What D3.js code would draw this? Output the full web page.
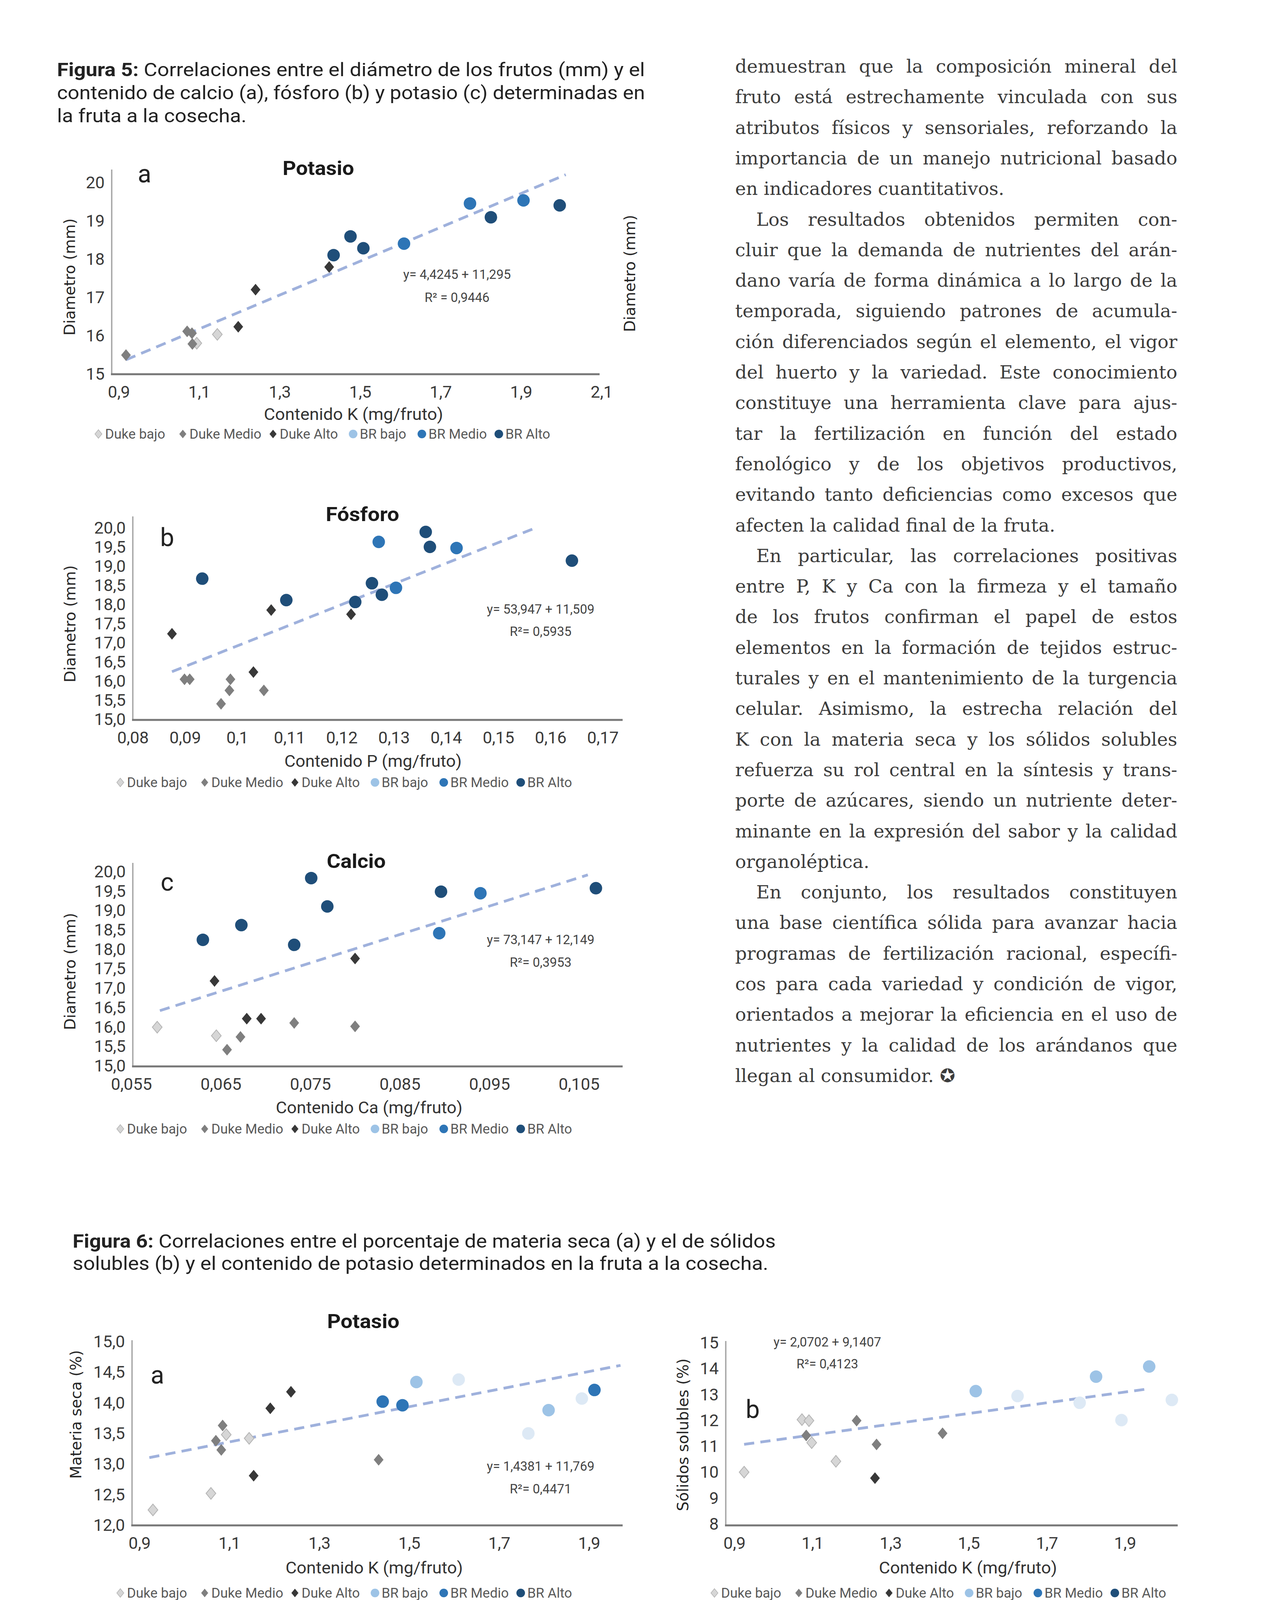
<!DOCTYPE html>
<html><head><meta charset="utf-8">
<script src="https://cdn.jsdelivr.net/npm/d3@7"></script>
<style>body{margin:0;background:#fff}svg{display:block}</style>
</head><body>
<script>
// ================= DATA =================
const seriesNames = ["Duke bajo","Duke Medio","Duke Alto","BR bajo","BR Medio","BR Alto","BR (sin leyenda)"];
const legendSeries = [0,1,2,3,4,5];

// Figura 5a – Potasio vs Diámetro
const k5aS = [0,0, 1,1,1,1, 2,2,2, 4,4,4, 5,5,5,5,5];
const k5aX = [1.094,1.145, 0.918,1.070,1.082,1.083, 1.197,1.240,1.423, 1.609,1.773,1.906, 1.434,1.476,1.508,1.825,1.996];
const k5aY = [15.79,16.02, 15.48,16.10,16.05,15.77, 16.22,17.19,17.78, 18.39,19.44,19.52, 18.09,18.58,18.27,19.08,19.39];

// Figura 5b – Fósforo vs Diámetro
const p5bS = [1,1,1,1,1,1, 2,2,2,2, 4,4,4, 5,5,5,5,5,5,5,5];
const p5bX = [0.0899,0.0909,0.0987,0.0985,0.0969,0.1051, 0.1031,0.0875,0.1065,0.1218, 0.1271,0.1304,0.1420, 0.0933,0.1094,0.1226,0.1258,0.1277,0.1361,0.1369,0.1641];
const p5bY = [16.03,16.03,16.03,15.74,15.39,15.74, 16.22,17.22,17.84,17.73, 19.62,18.42,19.46, 18.66,18.10,18.05,18.54,18.24,19.88,19.49,19.13];

// Figura 5c – Calcio vs Diámetro
const c5cS = [0,0, 1,1,1,1, 2,2,2,2, 4,4, 5,5,5,5,5,5,5];
const c5cX = [0.0579,0.0645, 0.0657,0.0672,0.0732,0.0800, 0.0679,0.0695,0.0643,0.0800, 0.0894,0.0940, 0.0630,0.0673,0.0732,0.0751,0.0769,0.0896,0.1069];
const c5cY = [15.98,15.76, 15.40,15.73,16.09,16.00, 16.20,16.20,17.17,17.75, 18.40,19.43, 18.23,18.61,18.10,19.82,19.09,19.47,19.56];

// Figura 6a – Potasio vs Materia seca
const m6aS = [0,0,0,0, 1,1,1,1, 2,2,2, 3,3, 4,4,4, 6,6,6];
const m6aX = [0.930,1.059,1.093,1.144, 1.070,1.085,1.082,1.432, 1.154,1.191,1.237, 1.516,1.810, 1.441,1.485,1.912, 1.610,1.765,1.884];
const m6aY = [12.24,12.51,13.47,13.41, 13.37,13.62,13.22,13.06, 12.80,13.90,14.17, 14.33,13.87, 14.01,13.95,14.20, 14.37,13.49,14.06];

// Figura 6b – Potasio vs Sólidos solubles
const s6bS = [0,0,0,0,0, 1,1,1,1, 2, 3,3,3, 6,6,6,6];
const s6bX = [0.925,1.073,1.091,1.098,1.160, 1.084,1.213,1.264,1.433, 1.260, 1.518,1.826,1.962, 1.625,1.784,1.891,2.020];
const s6bY = [9.98,12.01,11.97,11.12,10.40, 11.40,11.97,11.05,11.48, 9.75, 13.11,13.67,14.06, 12.92,12.66,11.99,12.77];

// Trend lines (y = a·x + b)
const trendSlope     = [4.4245, 53.947, 73.147, 1.4381, 2.0702];
const trendIntercept = [11.295, 11.509, 12.149, 11.769, 9.1407];
const trendFrom      = [0.918, 0.0875, 0.0582, 0.922, 0.925];
const trendTo        = [2.011, 0.1573, 0.1060, 1.970, 1.961];
const eqLabels = ["y= 4,4245 + 11,295","y= 53,947 + 11,509","y= 73,147 + 12,149","y= 1,4381 + 11,769","y= 2,0702 + 9,1407"];
const r2Labels = ["R² = 0,9446","R²= 0,5935","R²= 0,3953","R²= 0,4471","R²= 0,4123"];

// Tick values
const ticks5aX = [0.9,1.1,1.3,1.5,1.7,1.9,2.1];
const ticks5aY = [15,16,17,18,19,20];
const ticks5bX = [0.08,0.09,0.10,0.11,0.12,0.13,0.14,0.15,0.16,0.17];
const ticks5bY = [15,15.5,16,16.5,17,17.5,18,18.5,19,19.5,20];
const ticks5cX = [0.055,0.065,0.075,0.085,0.095,0.105];
const ticks5cY = [15,15.5,16,16.5,17,17.5,18,18.5,19,19.5,20];
const ticks6aX = [0.9,1.1,1.3,1.5,1.7,1.9];
const ticks6aY = [12,12.5,13,13.5,14,14.5,15];
const ticks6bX = [0.9,1.1,1.3,1.5,1.7,1.9];
const ticks6bY = [8,9,10,11,12,13,14,15];

// ================= STYLE =================
const colors = ["#d6d6d6","#7f7f7f","#383838","#9dc3e6","#2e75b6","#1f4e79","#dde9f5"];
const strokes = ["#b3b3b3",null,null,null,null,null,null];
const isDiamond = [true,true,true,false,false,false,false];
const SANS = "Roboto, 'Noto Sans', sans-serif";

const W = 3282, H = 4208;
const svg = d3.select("body").append("svg").attr("width", W).attr("height", H);
svg.append("rect").attr("width", W).attr("height", H).attr("fill", "#fff");

const fmtTrim = v => String(+v.toFixed(3)).replace(".", ",");
const fmt1 = v => d3.format(".1f")(v).replace(".", ",");
const fmt0 = v => d3.format("d")(v);

function diamondPath(w, h) { return `M0,${-h}L${w},0L0,${h}L${-w},0Z`; }
function circlePath(r) { return d3.arc()({innerRadius:0, outerRadius:r, startAngle:0, endAngle:2*Math.PI}); }

// ================= CAPTIONS =================
function caption(x, y, bold, rest, len) {
  const t = svg.append("text").attr("x", x).attr("y", y)
    .attr("font-family", SANS).attr("font-size", 48).attr("fill", "#222");
  if (bold) t.append("tspan").attr("font-weight", 700).text(bold);
  t.append("tspan").text(rest);
  t.attr("textLength", len).attr("lengthAdjust", "spacingAndGlyphs");
}
caption(146, 195, "Figura 5:", " Correlaciones entre el diámetro de los frutos (mm) y el", 1505);
caption(146, 254, null, "contenido de calcio (a), fósforo (b) y potasio (c) determinadas en", 1505);
caption(146, 313, null, "la fruta a la cosecha.", 485);
caption(186, 3194, "Figura 6:", " Correlaciones entre el porcentaje de materia seca (a) y el de sólidos", 1800);
caption(186, 3251, null, "solubles (b) y el contenido de potasio determinados en la fruta a la cosecha.", 1781);

// ================= CHARTS =================
const charts = [
  {X:k5aX, Y:k5aY, S:k5aS, tx:ticks5aX, ty:ticks5aY, fx:fmtTrim, fy:fmt0,
   axX:286, axTop:434, axY:958, axR:1535, xr:[304,1540], yr:[956,466],
   title:"Potasio", tPos:[815,448], tLen:183, letter:"a", lPos:[370,467],
   ytitle:"Diametro (mm)", ytPos:[178,709], xtitle:"Contenido K (mg/fruto)", xtPos:[905,1075], xtLen:459,
   eqPos:[1170,714,773], legY:1123, legX:269, k:0},
  {X:p5bX, Y:p5bY, S:p5bS, tx:ticks5bX, ty:ticks5bY, fx:fmtTrim, fy:fmt1,
   axX:340, axTop:1322, axY:1843, axR:1594, xr:[340,1543], yr:[1840,1350],
   title:"Fósforo", tPos:[928,1334], tLen:188, letter:"b", lPos:[428,1398],
   ytitle:"Diametro (mm)", ytPos:[179,1597], xtitle:"Contenido P (mg/fruto)", xtPos:[955,1963], xtLen:454,
   eqPos:[1384,1571,1628], legY:2015, legX:325, k:1},
  {X:c5cX, Y:c5cY, S:c5cS, tx:ticks5cX, ty:ticks5cY, fx:fmtTrim, fy:fmt1,
   axX:340, axTop:2209, axY:2730, axR:1594, xr:[336,1482], yr:[2727,2230],
   title:"Calcio", tPos:[912,2222], tLen:151, letter:"c", lPos:[428,2280],
   ytitle:"Diametro (mm)", ytPos:[179,2487], xtitle:"Contenido Ca (mg/fruto)", xtPos:[945,2850], xtLen:478,
   eqPos:[1384,2417,2475], legY:2902, legX:325, k:2},
  {X:m6aX, Y:m6aY, S:m6aS, tx:ticks6aX, ty:ticks6aY, fx:fmtTrim, fy:fmt1,
   axX:338, axTop:3431, axY:3905, axR:1594, xr:[357,1508], yr:[3903,3433],
   title:"Potasio", tPos:[930,3400], tLen:185, letter:"a", lPos:[403,3542],
   ytitle:"Materia seca (%)", ytPos:[194,3621], xtitle:"Contenido K (mg/fruto)", xtPos:[958,4028], xtLen:454,
   eqPos:[1384,3765,3823], legY:4090, legX:325, k:3},
  {X:s6bX, Y:s6bY, S:s6bS, tx:ticks6bX, ty:ticks6bY, fx:fmtTrim, fy:fmt0,
   axX:1858, axTop:3433, axY:3905, axR:3015, xr:[1880,2880], yr:[3900,3436],
   title:null, letter:"b", lPos:[1927,3630],
   ytitle:"Sólidos solubles (%)", ytPos:[1748,3673], xtitle:"Contenido K (mg/fruto)", xtPos:[2478,4028], xtLen:456,
   eqPos:[2118,3447,3503], legY:4090, legX:1846, k:4}
];
const legendOffsets = [0, 216, 447, 652, 828, 1025];

charts.forEach(c => {
  const g = svg.append("g");
  const x = d3.scaleLinear().domain([c.tx[0], c.tx[c.tx.length-1]]).range(c.xr);
  const y = d3.scaleLinear().domain([c.ty[0], c.ty[c.ty.length-1]]).range(c.yr);

  // tick labels via d3 axes
  const ax = g.append("g").attr("transform", `translate(0,${c.axY})`)
    .call(d3.axisBottom(x).tickValues(c.tx).tickFormat(c.fx).tickSize(0));
  ax.select(".domain").remove();
  ax.selectAll("text").attr("y", 60).attr("dy", null)
    .attr("font-family", SANS).attr("font-size", 43).attr("fill", "#3a3a3a");
  const ay = g.append("g").attr("transform", `translate(${c.axX},0)`)
    .call(d3.axisLeft(y).tickValues(c.ty).tickFormat(c.fy).tickSize(0).tickPadding(18));
  ay.select(".domain").remove();
  ay.selectAll("text").attr("dy", "0.36em")
    .attr("font-family", SANS).attr("font-size", 43).attr("fill", "#3a3a3a");

  // axis lines
  g.append("line").attr("x1", c.axX).attr("x2", c.axX).attr("y1", c.axTop).attr("y2", c.axY)
    .attr("stroke", "#a6a6a6").attr("stroke-width", 3.5);
  g.append("line").attr("x1", c.axX - 2).attr("x2", c.axR).attr("y1", c.axY).attr("y2", c.axY)
    .attr("stroke", "#777").attr("stroke-width", 5);

  // trend line
  const k = c.k;
  const tr = [trendFrom[k], trendTo[k]].map(v => [v, trendSlope[k]*v + trendIntercept[k]]);
  g.append("path").attr("d", d3.line().x(d => x(d[0])).y(d => y(d[1]))(tr))
    .attr("stroke", "#9fb1dc").attr("stroke-width", 7).attr("fill", "none")
    .attr("stroke-dasharray", "26,16");

  // points
  const pts = c.X.map((v, i) => ({x: v, y: c.Y[i], s: c.S[i]}));
  pts.sort((a, b) => a.s - b.s);
  g.selectAll("path.pt").data(pts).join("path").attr("class", "pt")
    .attr("transform", d => `translate(${x(d.x)},${y(d.y)})`)
    .attr("d", d => isDiamond[d.s] ? diamondPath(12.5, 15) : circlePath(16))
    .attr("fill", d => colors[d.s])
    .attr("stroke", d => strokes[d.s] || "none").attr("stroke-width", 2);

  // titles
  if (c.title) {
    g.append("text").attr("x", c.tPos[0]).attr("y", c.tPos[1]).attr("text-anchor", "middle")
      .attr("font-family", SANS).attr("font-weight", 700).attr("font-size", 50).attr("fill", "#1a1a1a")
      .attr("textLength", c.tLen).attr("lengthAdjust", "spacingAndGlyphs").text(c.title);
  }
  g.append("text").attr("x", c.lPos[0]).attr("y", c.lPos[1]).attr("text-anchor", "middle")
    .attr("font-family", SANS).attr("font-size", 64).attr("fill", "#222").text(c.letter);

  g.append("text").attr("transform", `translate(${c.ytPos[0]},${c.ytPos[1]}) rotate(-90)`)
    .attr("text-anchor", "middle").attr("dominant-baseline", "central")
    .attr("font-family", "'DejaVu Sans', sans-serif").attr("font-size", 39).attr("fill", "#262626")
    .text(c.ytitle);

  g.append("text").attr("x", c.xtPos[0]).attr("y", c.xtPos[1]).attr("text-anchor", "middle")
    .attr("font-family", SANS).attr("font-size", 42).attr("fill", "#333")
    .attr("textLength", c.xtLen).attr("lengthAdjust", "spacingAndGlyphs").text(c.xtitle);

  // equation
  g.append("text").attr("x", c.eqPos[0]).attr("y", c.eqPos[1]).attr("text-anchor", "middle")
    .attr("font-family", SANS).attr("font-size", 33).attr("fill", "#444").text(eqLabels[k]);
  g.append("text").attr("x", c.eqPos[0]).attr("y", c.eqPos[2]).attr("text-anchor", "middle")
    .attr("font-family", SANS).attr("font-size", 33).attr("fill", "#444").text(r2Labels[k]);

  // legend
  const lg = g.append("g");
  legendSeries.forEach((s, i) => {
    const tx = c.legX + legendOffsets[i];
    lg.append("path").attr("transform", `translate(${tx - 17},${c.legY - 12})`)
      .attr("d", isDiamond[s] ? diamondPath(9, 11) : circlePath(11))
      .attr("fill", colors[s]).attr("stroke", strokes[s] || "none").attr("stroke-width", 1.5);
    lg.append("text").attr("x", tx).attr("y", c.legY)
      .attr("font-family", SANS).attr("font-size", 35).attr("fill", "#595959").text(seriesNames[s]);
  });
});

// stray secondary-axis title in Fig 5a
svg.append("text").attr("transform", "translate(1612,700) rotate(-90)")
  .attr("text-anchor", "middle").attr("dominant-baseline", "central")
  .attr("font-family", "'DejaVu Sans', sans-serif").attr("font-size", 39).attr("fill", "#262626")
  .text("Diametro (mm)");

// ================= BODY TEXT (right column) =================
const bodyLines = [
  ["demuestran que la composición mineral del",0,1],
  ["fruto está estrechamente vinculada con sus",0,1],
  ["atributos físicos y sensoriales, reforzando la",0,1],
  ["importancia de un manejo nutricional basado",0,1],
  ["en indicadores cuantitativos.",0,0],
  ["Los resultados obtenidos permiten con-",1,1],
  ["cluir que la demanda de nutrientes del arán-",0,1],
  ["dano varía de forma dinámica a lo largo de la",0,1],
  ["temporada, siguiendo patrones de acumula-",0,1],
  ["ción diferenciados según el elemento, el vigor",0,1],
  ["del huerto y la variedad. Este conocimiento",0,1],
  ["constituye una herramienta clave para ajus-",0,1],
  ["tar la fertilización en función del estado",0,1],
  ["fenológico y de los objetivos productivos,",0,1],
  ["evitando tanto deficiencias como excesos que",0,1],
  ["afecten la calidad final de la fruta.",0,0],
  ["En particular, las correlaciones positivas",1,1],
  ["entre P, K y Ca con la firmeza y el tamaño",0,1],
  ["de los frutos confirman el papel de estos",0,1],
  ["elementos en la formación de tejidos estruc-",0,1],
  ["turales y en el mantenimiento de la turgencia",0,1],
  ["celular. Asimismo, la estrecha relación del",0,1],
  ["K con la materia seca y los sólidos solubles",0,1],
  ["refuerza su rol central en la síntesis y trans-",0,1],
  ["porte de azúcares, siendo un nutriente deter-",0,1],
  ["minante en la expresión del sabor y la calidad",0,1],
  ["organoléptica.",0,0],
  ["En conjunto, los resultados constituyen",1,1],
  ["una base científica sólida para avanzar hacia",0,1],
  ["programas de fertilización racional, específi-",0,1],
  ["cos para cada variedad y condición de vigor,",0,1],
  ["orientados a mejorar la eficiencia en el uso de",0,1],
  ["nutrientes y la calidad de los arándanos que",0,1],
  ["llegan al consumidor. ✪",0,0]
];
const bx0 = 1882, bx1 = 3014, by0 = 186, bdy = 78.3, indent = 54;
const bg = svg.append("g").attr("font-family", "'DejaVu Serif', 'Liberation Serif', serif")
  .attr("font-size", 47).attr("fill", "#3c3c3c");
bodyLines.forEach((ln, i) => {
  const xs = bx0 + (ln[1] ? indent : 0);
  const t = bg.append("text").attr("x", xs).attr("y", by0 + i*bdy).text(ln[0]);
  if (ln[2]) {
    const target = bx1 - xs;
    const w = t.node().getComputedTextLength();
    const n = (ln[0].match(/ /g) || []).length;
    if (w > target || n === 0) {
      t.attr("textLength", target).attr("lengthAdjust", "spacingAndGlyphs");
    } else {
      t.attr("word-spacing", (target - w) / n);
      const w2 = t.node().getComputedTextLength();
      if (Math.abs(w2 - target) > 3) t.attr("word-spacing", null).attr("textLength", target).attr("lengthAdjust", "spacing");
    }
  } else {
    const w = t.node().getComputedTextLength();
    const target = bx1 - xs;
    if (w > target) t.attr("textLength", target).attr("lengthAdjust", "spacingAndGlyphs");
  }
});
</script>
</body></html>
